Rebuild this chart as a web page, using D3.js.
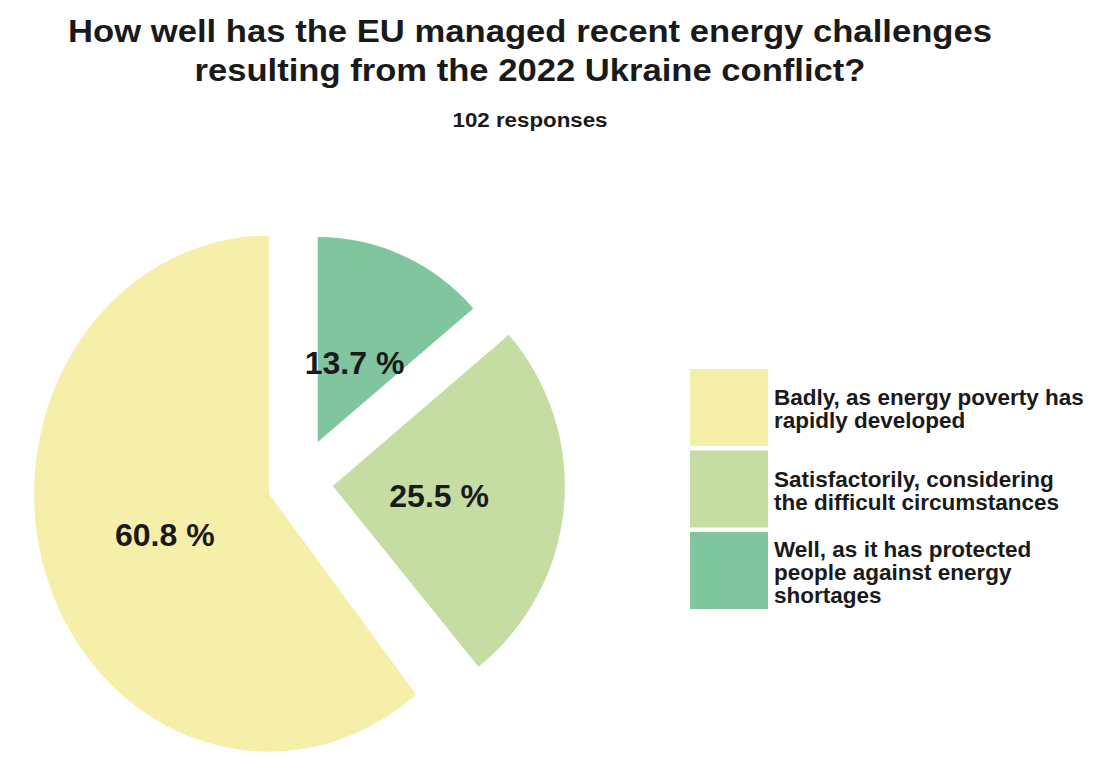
<!DOCTYPE html>
<html>
<head>
<meta charset="utf-8">
<script src="https://cdn.jsdelivr.net/npm/d3@7"></script>
<style>
  body { margin: 0; background: #fff; }
  text { font-family: "Liberation Sans", Arial, sans-serif; font-weight: bold; fill: #1a1a1a; }
</style>
</head>
<body>
<div id="chart"></div>
<script>
// data
var categories = ["Badly, as energy poverty has rapidly developed",
                  "Satisfactorily, considering the difficult circumstances",
                  "Well, as it has protected people against energy shortages"];
var legendLines = [["Badly, as energy poverty has", "rapidly developed"],
                   ["Satisfactorily, considering", "the difficult circumstances"],
                   ["Well, as it has protected", "people against energy", "shortages"]];
var values = [60.8, 25.5, 13.7];
var responses = 102;

var width = 1097, height = 759;
var colors = ["#f6efaa", "#c5dca2", "#80c59d"];
// per slice look (radius, how far it is pulled out, x squash, label distance)
var radius = [258, 232, 205];
var explode = [32, 34, 45];
var squashX = [0.91, 1, 1];
var labelFrac = [0.47, 0.46, 0.43];
var center = {x: 299, y: 483};

var svg = d3.select("#chart")
  .append("svg")
    .attr("width", width)
    .attr("height", height);

// title
var title = svg.append("g");
title.append("text")
  .attr("x", 530).attr("y", 42)
  .attr("text-anchor", "middle")
  .attr("font-size", 31)
  .attr("textLength", 924).attr("lengthAdjust", "spacingAndGlyphs")
  .text("How well has the EU managed recent energy challenges");
title.append("text")
  .attr("x", 530).attr("y", 81)
  .attr("text-anchor", "middle")
  .attr("font-size", 31)
  .attr("textLength", 671).attr("lengthAdjust", "spacingAndGlyphs")
  .text("resulting from the 2022 Ukraine conflict?");
svg.append("text")
  .attr("x", 530).attr("y", 127)
  .attr("text-anchor", "middle")
  .attr("font-size", 20)
  .attr("textLength", 155).attr("lengthAdjust", "spacingAndGlyphs")
  .text(responses + " responses");

var data = categories.map(function(c, i) { return {name: c, value: values[i], i: i}; });

// smallest slice starts at 12 o'clock, clockwise
var pie = d3.pie()
  .value(function(d) { return d.value; })
  .sort(function(a, b) { return a.value - b.value; });

var arcs = pie(data);

var slices = svg.append("g").selectAll("g")
  .data(arcs)
  .join("g")
    .attr("transform", function(d) {
      var mid = (d.startAngle + d.endAngle) / 2;
      var e = explode[d.data.i];
      var vx = center.x + Math.sin(mid) * e;
      var vy = center.y - Math.cos(mid) * e;
      return "translate(" + vx + "," + vy + ") scale(" + squashX[d.data.i] + ",1)";
    });

slices.append("path")
  .attr("d", function(d) {
    return d3.arc().innerRadius(0).outerRadius(radius[d.data.i])(d);
  })
  .attr("fill", function(d) { return colors[d.data.i]; });

slices.append("text")
  .attr("transform", function(d) {
    var r = radius[d.data.i] * labelFrac[d.data.i];
    var c = d3.arc().innerRadius(r).outerRadius(r).centroid(d);
    return "translate(" + c[0] + "," + c[1] + ") scale(" + (1 / squashX[d.data.i]) + ",1)";
  })
  .attr("text-anchor", "middle")
  .attr("dy", "0.36em")
  .attr("font-size", 32)
  .text(function(d) { return d.data.value.toFixed(1) + " %"; });

// legend
var legend = svg.append("g")
  .attr("transform", "translate(690,369)");

var item = legend.selectAll("g")
  .data(data)
  .join("g")
    .attr("transform", function(d, i) { return "translate(0," + (i * 81.5) + ")"; });

item.append("rect")
  .attr("width", 78)
  .attr("height", 77)
  .attr("fill", function(d) { return colors[d.i]; });

item.append("text")
  .attr("font-size", 22.5)
  .each(function(d) {
    var lines = legendLines[d.i];
    var t = d3.select(this);
    var y0 = 58 - 11 * lines.length;
    lines.forEach(function(l, k) {
      t.append("tspan").attr("x", 84).attr("y", y0 + k * 23).text(l);
    });
  });
</script>
</body>
</html>
